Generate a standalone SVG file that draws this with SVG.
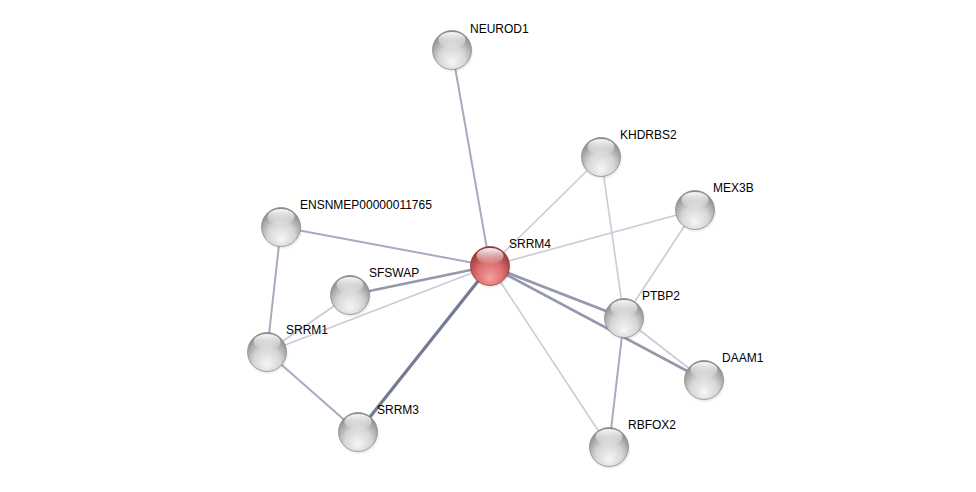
<svg xmlns="http://www.w3.org/2000/svg" width="976" height="492" viewBox="0 0 976 492">
<defs>
<radialGradient id="gGrey" cx="0.5" cy="0.68" r="0.62" fx="0.5" fy="0.82">
<stop offset="0" stop-color="#f6f6f6"/>
<stop offset="0.55" stop-color="#d6d6d6"/>
<stop offset="1" stop-color="#8e8e8e"/>
</radialGradient>
<radialGradient id="gRed" cx="0.5" cy="0.68" r="0.62" fx="0.5" fy="0.82">
<stop offset="0" stop-color="#f7a0a0"/>
<stop offset="0.55" stop-color="#dc6e6e"/>
<stop offset="1" stop-color="#9a3636"/>
</radialGradient>
<linearGradient id="gHi" x1="0" y1="0" x2="0" y2="1">
<stop offset="0" stop-color="#ffffff" stop-opacity="0.95"/>
<stop offset="1" stop-color="#ffffff" stop-opacity="0.05"/>
</linearGradient>
<radialGradient id="gSh" cx="0.5" cy="0.5" r="0.5">
<stop offset="0.7" stop-color="#000" stop-opacity="0.18"/>
<stop offset="1" stop-color="#000" stop-opacity="0"/>
</radialGradient>
<g id="ballGrey">
<circle cx="1" cy="2" r="21" fill="url(#gSh)"/>
<circle r="19.5" fill="url(#gGrey)" stroke="#858585" stroke-width="0.7"/>
<ellipse cx="0" cy="-10" rx="13.5" ry="8" fill="url(#gHi)"/>
</g>
<g id="ballRed">
<circle cx="1" cy="2" r="21" fill="url(#gSh)"/>
<circle r="19.5" fill="url(#gRed)" stroke="#943232" stroke-width="0.7"/>
<ellipse cx="0" cy="-10" rx="13.5" ry="8" fill="url(#gHi)"/>
</g>
</defs>
<style>
.e{fill:none;stroke-linecap:butt}
.l1{stroke:#c8cbda;stroke-width:1.6}
.l2{stroke:#a8abbf;stroke-width:2}
.l3{stroke:#9498ae;stroke-width:2.6}
.l4{stroke:#747a92;stroke-width:3.2}
text{font-family:"Liberation Sans",Arial,sans-serif;font-size:12px;fill:#000}
</style>
<rect width="976" height="492" fill="#ffffff"/>
<g id="connectors">
<line class="e l2" x1="490" y1="266" x2="452" y2="50"/>
<line class="e l1" x1="490" y1="266" x2="601" y2="157"/>
<line class="e l1" x1="490" y1="266" x2="695" y2="210"/>
<line class="e l2" x1="490" y1="266" x2="281" y2="227"/>
<line class="e l3" x1="490" y1="266" x2="350" y2="295"/>
<line class="e l1" x1="490" y1="266" x2="267" y2="352"/>
<line class="e l4" x1="490" y1="266" x2="358" y2="432"/>
<line class="e l3" x1="490" y1="266" x2="624" y2="318"/>
<line class="e l3" x1="490" y1="266" x2="704" y2="380"/>
<line class="e l1" x1="490" y1="266" x2="609" y2="447"/>
<line class="e l1" x1="601" y1="157" x2="624" y2="318"/>
<line class="e l1" x1="695" y1="210" x2="624" y2="318"/>
<line class="e l1" x1="624" y1="318" x2="704" y2="380"/>
<line class="e l2" x1="624" y1="318" x2="609" y2="447"/>
<line class="e l2" x1="281" y1="227" x2="267" y2="352"/>
<line class="e l1" x1="350" y1="295" x2="267" y2="352"/>
<line class="e l2" x1="267" y1="352" x2="358" y2="432"/>
</g>
<g id="NEUROD1"><use href="#ballGrey" x="452" y="50"/><text x="470" y="33">NEUROD1</text></g>
<g id="KHDRBS2"><use href="#ballGrey" x="601" y="157"/><text x="620" y="139">KHDRBS2</text></g>
<g id="MEX3B"><use href="#ballGrey" x="695" y="210"/><text x="713" y="192">MEX3B</text></g>
<g id="ENSNMEP00000011765"><use href="#ballGrey" x="281" y="227"/><text x="300" y="209">ENSNMEP00000011765</text></g>
<g id="SFSWAP"><use href="#ballGrey" x="350" y="295"/><text x="369" y="277">SFSWAP</text></g>
<g id="PTBP2"><use href="#ballGrey" x="624" y="318"/><text x="642" y="300">PTBP2</text></g>
<g id="SRRM1"><use href="#ballGrey" x="267" y="352"/><text x="286" y="334">SRRM1</text></g>
<g id="DAAM1"><use href="#ballGrey" x="704" y="380"/><text x="722" y="362">DAAM1</text></g>
<g id="SRRM3"><use href="#ballGrey" x="358" y="432"/><text x="377" y="414">SRRM3</text></g>
<g id="RBFOX2"><use href="#ballGrey" x="609" y="447"/><text x="628" y="429">RBFOX2</text></g>
<g id="SRRM4"><use href="#ballRed" x="490" y="266"/><text x="509" y="248">SRRM4</text></g>
</svg>
